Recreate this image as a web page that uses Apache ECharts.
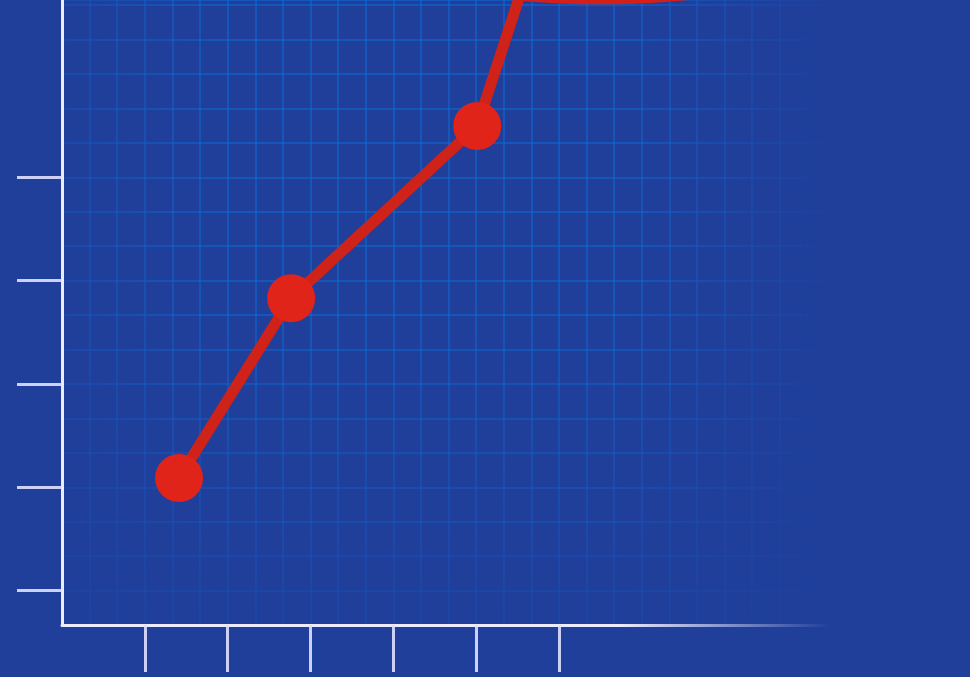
<!DOCTYPE html>
<html>
<head>
<meta charset="utf-8">
<script src="https://cdn.jsdelivr.net/npm/echarts@6/dist/echarts.min.js"></script>
<style>
  html, body { margin: 0; padding: 0; background: #203f9b; }
  #main { width: 970px; height: 677px; }
</style>
</head>
<body>
<div id="main"></div>
<script>
// values in grid units (one unit = one small grid square)
const lineX = [4.24, 8.3, 15.04, 17]
const lineY = [4.27, 9.49, 14.49, 19.3]
// big red blob cut off by the top edge
const blobPoint = [[19.5, 18.87]]
const xTicks = [3, 6, 9, 12, 15, 18]
const yTicks = [1, 4, 7, 10, 13]
const xMax = 28
const yMax = 18.15

const bg = '32,63,155'
const lineData = lineX.map((x, i) => [x, lineY[i]])

const chart = echarts.init(document.getElementById('main'))
chart.setOption({
  animation: false,
  backgroundColor: '#203f9b',
  grid: { left: 62, right: 135, top: 0, bottom: 52 },
  xAxis: [
    {
      // grid lines only
      type: 'value', min: 0, max: xMax, interval: 1, z: 0,
      axisLine: { show: false }, axisTick: { show: false }, axisLabel: { show: false },
      splitLine: { show: true, lineStyle: { color: 'rgba(10,110,220,0.5)', width: 2 } }
    },
    {
      type: 'value', min: 0, max: xMax, interval: 1, z: 2, position: 'bottom',
      axisLine: { show: true, lineStyle: { color: '#ecebff', width: 3 } },
      axisTick: { show: true, customValues: xTicks, length: 47, lineStyle: { color: 'rgba(225,225,255,0.9)', width: 3 } },
      axisLabel: { show: false },
      splitLine: { show: false }
    }
  ],
  yAxis: [
    {
      type: 'value', min: 0, max: yMax, interval: 1, z: 0,
      axisLine: { show: false }, axisTick: { show: false }, axisLabel: { show: false },
      splitLine: { show: true, lineStyle: { color: 'rgba(10,110,220,0.5)', width: 2 } }
    },
    {
      type: 'value', min: 0, max: yMax, interval: 1, z: 2, position: 'left',
      axisLine: { show: true, lineStyle: { color: '#ecebff', width: 3 } },
      axisTick: { show: true, customValues: yTicks, length: 45, lineStyle: { color: 'rgba(225,225,255,0.9)', width: 3 } },
      axisLabel: { show: false },
      splitLine: { show: false }
    }
  ],
  graphic: [
    // fade the grid toward the bottom
    {
      type: 'rect', z: 1, silent: true,
      shape: { x: 62, y: 300, width: 780, height: 330 },
      style: {
        fill: {
          type: 'linear', x: 0, y: 0, x2: 0, y2: 1,
          colorStops: [
            { offset: 0, color: 'rgba(' + bg + ',0)' },
            { offset: 1, color: 'rgba(' + bg + ',0.75)' }
          ]
        }
      }
    },
    // and toward the left
    {
      type: 'rect', z: 1, silent: true,
      shape: { x: 64, y: 0, width: 160, height: 624 },
      style: {
        fill: {
          type: 'linear', x: 0, y: 0, x2: 1, y2: 0,
          colorStops: [
            { offset: 0, color: 'rgba(' + bg + ',0.55)' },
            { offset: 1, color: 'rgba(' + bg + ',0)' }
          ]
        }
      }
    },
    // right fade covers grid and x axis line
    {
      type: 'rect', z: 3, silent: true,
      shape: { x: 620, y: 0, width: 350, height: 677 },
      style: {
        fill: {
          type: 'linear', x: 0, y: 0, x2: 1, y2: 0,
          colorStops: [
            { offset: 0, color: 'rgba(' + bg + ',0)' },
            { offset: 0.6, color: 'rgba(' + bg + ',1)' },
            { offset: 1, color: 'rgba(' + bg + ',1)' }
          ]
        }
      }
    }
  ],
  series: [
    {
      type: 'scatter',
      xAxisIndex: 1, yAxisIndex: 1,
      z: 5,
      clip: false,
      symbol: 'circle',
      symbolSize: [340, 58],
      itemStyle: { color: '#d42018', opacity: 1 },
      data: blobPoint
    },
    {
      type: 'line',
      xAxisIndex: 1, yAxisIndex: 1,
      z: 6,
      clip: true,
      symbol: 'circle',
      symbolSize: 48,
      itemStyle: { color: '#e0241a' },
      lineStyle: { color: '#cf2219', width: 11 },
      data: lineData
    }
  ]
})
</script>
</body>
</html>
